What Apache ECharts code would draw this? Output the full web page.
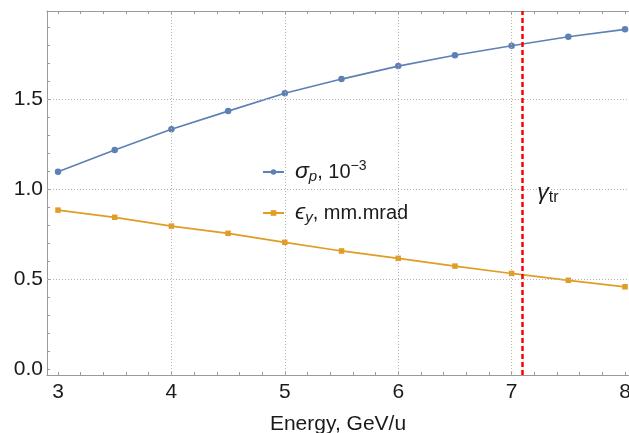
<!DOCTYPE html>
<html>
<head>
<meta charset="utf-8">
<script src="https://cdn.jsdelivr.net/npm/echarts@6.0.0/dist/echarts.min.js"></script>
<style>
  html, body { margin: 0; padding: 0; background: #fff; }
  #chart { width: 629px; height: 433px; }
</style>
</head>
<body>
<div id="chart"></div>
<script>
// data
const energy = [3, 3.5, 4, 4.5, 5, 5.5, 6, 6.5, 7, 7.5, 8]
const sigmaP = [1.096, 1.217, 1.332, 1.433, 1.532, 1.611, 1.683, 1.743, 1.796, 1.846, 1.887]
const epsY = [0.883, 0.843, 0.794, 0.754, 0.704, 0.656, 0.615, 0.572, 0.531, 0.493, 0.457]
const gammaTr = 7.09

// ticks and grid lines
const xTicks = [3, 3.2, 3.4, 3.6, 3.8, 4, 4.2, 4.4, 4.6, 4.8, 5, 5.2, 5.4, 5.6, 5.8, 6, 6.2, 6.4, 6.6, 6.8, 7, 7.2, 7.4, 7.6, 7.8, 8]
const xLabels = [3, 4, 5, 6, 7, 8]
const yTicks = [0, 0.1, 0.2, 0.3, 0.4, 0.5, 0.6, 0.7, 0.8, 0.9, 1, 1.1, 1.2, 1.3, 1.4, 1.5, 1.6, 1.7, 1.8, 1.9]
const yLabels = [0, 0.5, 1, 1.5]
const xGrid = [4, 5, 6, 7]
const yGrid = [0.5, 1, 1.5]

const FONT = '"Liberation Sans", Arial, sans-serif'
const BLUE = '#5e81b5'
const ORANGE = '#e19c24'
const FRAME = '#9a9a9a'
const INK = '#1a1a1a'

const pair = (xs, ys) => xs.map((x, i) => [x, ys[i]])

const frameLine = { show: true, onZero: false, lineStyle: { color: FRAME, width: 1 } }
const frameTick = (vals) => ({
  show: true,
  inside: true,
  length: 3,
  customValues: vals,
  lineStyle: { color: FRAME, width: 1 }
})

const option = {
  animation: false,
  backgroundColor: '#fff',
  grid: { left: 47, right: 0, top: 11, bottom: 58, outerBoundsMode: 'none', containLabel: false },
  legend: {
    orient: 'vertical',
    left: 257,
    top: 154,
    itemGap: 17,
    itemWidth: 21,
    itemHeight: 7,
    data: ['sigma', 'eps'],
    formatter: function (name) {
      if (name === 'sigma') return '{g|σ}{sub|p}{n|, 10}{sup|−3}'
      return '{g|ϵ}{sub|y}{n|, mm.mrad}'
    },
    textStyle: {
      padding: [0, 0, 0, 6],
      rich: {
        g: { fontSize: 23, fontStyle: 'italic', fontFamily: FONT, color: INK },
        sub: { fontSize: 15, fontStyle: 'italic', fontFamily: FONT, color: INK, padding: [10, 0, 0, 0] },
        n: { fontSize: 20, fontFamily: FONT, color: INK },
        sup: { fontSize: 14, fontFamily: FONT, color: INK, padding: [0, 0, 12, 0] }
      }
    }
  },
  xAxis: [
    {
      type: 'value',
      position: 'bottom',
      min: 2.903,
      max: 8.035,
      name: 'Energy, GeV/u',
      nameLocation: 'middle',
      nameGap: 39,
      nameMoveOverlap: false,
      nameTextStyle: { fontSize: 21, color: INK, fontFamily: FONT },
      axisLine: frameLine,
      axisTick: frameTick(xTicks),
      axisLabel: {
        customValues: xLabels,
        fontSize: 21,
        color: INK,
        fontFamily: FONT,
        margin: 7
      },
      splitLine: { show: false }
    },
    {
      type: 'value',
      position: 'top',
      min: 2.903,
      max: 8.035,
      axisLine: frameLine,
      axisTick: frameTick(xTicks),
      axisLabel: { show: false },
      splitLine: { show: false }
    }
  ],
  yAxis: [
    {
      type: 'value',
      position: 'left',
      min: -0.033,
      max: 1.989,
      axisLine: frameLine,
      axisTick: frameTick(yTicks),
      axisLabel: {
        customValues: yLabels,
        fontSize: 21,
        color: INK,
        fontFamily: FONT,
        margin: 4,
        formatter: v => v.toFixed(1)
      },
      splitLine: { show: false }
    }
  ],
  series: [
    {
      // dotted grid lines
      name: 'grid',
      type: 'line',
      data: [],
      z: 1,
      silent: true,
      markLine: {
        silent: true,
        symbol: 'none',
        label: { show: false },
        lineStyle: { color: '#b4b4b4', width: 1, type: [1, 2] },
        data: xGrid.map(v => ({ xAxis: v })).concat(yGrid.map(v => ({ yAxis: v })))
      }
    },
    {
      name: 'sigma',
      type: 'line',
      z: 3,
      data: pair(energy, sigmaP),
      symbol: 'circle',
      symbolSize: 6.5,
      lineStyle: { color: BLUE, width: 1.7 },
      itemStyle: { color: BLUE }
    },
    {
      name: 'eps',
      type: 'line',
      z: 3,
      data: pair(energy, epsY),
      symbol: 'rect',
      symbolSize: 5.5,
      lineStyle: { color: ORANGE, width: 1.7 },
      itemStyle: { color: ORANGE }
    },
    {
      // transition energy marker
      name: 'gamma',
      type: 'line',
      data: [],
      z: 4,
      silent: true,
      markLine: {
        silent: true,
        symbol: 'none',
        label: { show: false },
        lineStyle: { color: '#ff0000', width: 2.5, type: [5, 3] },
        data: [{ xAxis: gammaTr }]
      },
      markPoint: {
        silent: true,
        symbol: 'circle',
        symbolSize: 1,
        itemStyle: { color: 'rgba(0,0,0,0)' },
        data: [{ coord: [gammaTr, 0.98] }],
        label: {
          show: true,
          position: 'right',
          distance: 15,
          formatter: '{g|γ}{sub|tr}',
          rich: {
            g: { fontSize: 23, fontStyle: 'italic', fontFamily: FONT, color: INK },
            sub: { fontSize: 16, fontFamily: FONT, color: INK, padding: [9, 0, 0, 0] }
          }
        }
      }
    }
  ]
}

const myChart = echarts.init(document.getElementById('chart'), null, { renderer: 'canvas' })
myChart.setOption(option)
</script>
</body>
</html>
